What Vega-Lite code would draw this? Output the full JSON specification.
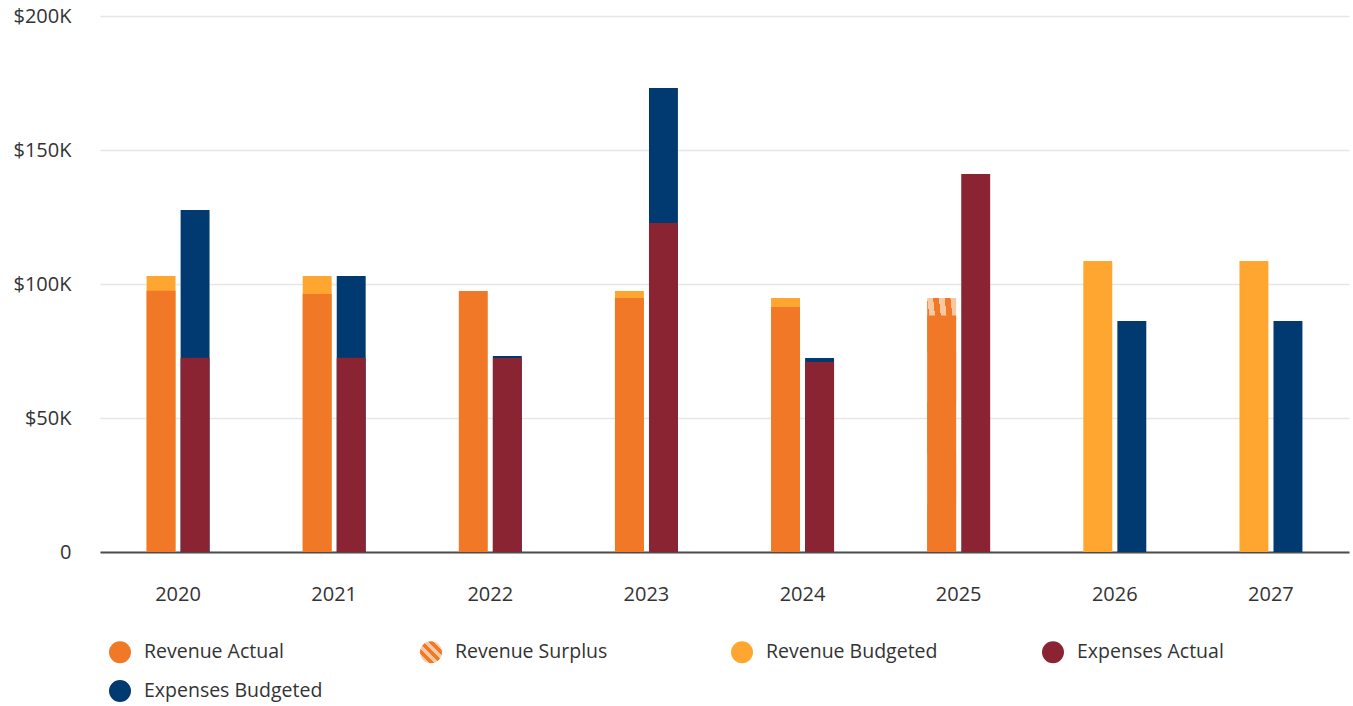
{
  "$schema": "https://vega.github.io/schema/vega-lite/v6.json",
  "autosize": {"type": "none"},
  "padding": {"left": 100, "top": 16, "right": 5, "bottom": 154},
  "width": 1249,
  "height": 536,
  "background": "white",
  "config": {
    "view": {"stroke": null},
    "font": "Open Sans",
    "axis": {"labelFont": "Open Sans", "labelFontSize": 20, "labelColor": "#333333", "titleFont": "Open Sans"},
    "legend": {"labelFont": "Open Sans", "labelFontSize": 19.5, "labelColor": "#333333"}
  },
  "data": {
    "values": [
      {"year": "2020", "group": "Revenue", "series": "Revenue Budgeted", "value": 103000},
      {"year": "2020", "group": "Revenue", "series": "Revenue Actual", "value": 97500},
      {"year": "2020", "group": "Expenses", "series": "Expenses Budgeted", "value": 127600},
      {"year": "2020", "group": "Expenses", "series": "Expenses Actual", "value": 72500},
      {"year": "2021", "group": "Revenue", "series": "Revenue Budgeted", "value": 103000},
      {"year": "2021", "group": "Revenue", "series": "Revenue Actual", "value": 96300},
      {"year": "2021", "group": "Expenses", "series": "Expenses Budgeted", "value": 103000},
      {"year": "2021", "group": "Expenses", "series": "Expenses Actual", "value": 72500},
      {"year": "2022", "group": "Revenue", "series": "Revenue Actual", "value": 97400},
      {"year": "2022", "group": "Expenses", "series": "Expenses Budgeted", "value": 73100},
      {"year": "2022", "group": "Expenses", "series": "Expenses Actual", "value": 72400},
      {"year": "2023", "group": "Revenue", "series": "Revenue Budgeted", "value": 97400},
      {"year": "2023", "group": "Revenue", "series": "Revenue Actual", "value": 94800},
      {"year": "2023", "group": "Expenses", "series": "Expenses Budgeted", "value": 173100},
      {"year": "2023", "group": "Expenses", "series": "Expenses Actual", "value": 122800},
      {"year": "2024", "group": "Revenue", "series": "Revenue Budgeted", "value": 94800},
      {"year": "2024", "group": "Revenue", "series": "Revenue Actual", "value": 91400},
      {"year": "2024", "group": "Expenses", "series": "Expenses Budgeted", "value": 72400},
      {"year": "2024", "group": "Expenses", "series": "Expenses Actual", "value": 70900},
      {"year": "2025", "group": "Revenue", "series": "Revenue Surplus", "value": 94800},
      {"year": "2025", "group": "Revenue", "series": "Revenue Actual", "value": 88200},
      {"year": "2025", "group": "Expenses", "series": "Expenses Actual", "value": 141000},
      {"year": "2026", "group": "Revenue", "series": "Revenue Budgeted", "value": 108600},
      {"year": "2026", "group": "Expenses", "series": "Expenses Budgeted", "value": 86200},
      {"year": "2027", "group": "Revenue", "series": "Revenue Budgeted", "value": 108600},
      {"year": "2027", "group": "Expenses", "series": "Expenses Budgeted", "value": 86200}
    ]
  },
  "encoding": {
    "x": {
      "field": "year", "type": "nominal", "title": null,
      "scale": {"paddingInner": 0.564, "paddingOuter": 0.282},
      "axis": {"labelAngle": 0, "ticks": false, "labelPadding": 32, "domainColor": "#4d4d4d", "domainWidth": 2, "grid": false}
    },
    "xOffset": {
      "field": "group", "type": "nominal",
      "scale": {"domain": ["Revenue", "Expenses"], "paddingInner": 0.15, "paddingOuter": 0.075}
    },
    "y": {
      "field": "value", "type": "quantitative", "title": null, "stack": null,
      "scale": {"domain": [0, 200000], "nice": false},
      "axis": {
        "values": [0, 50000, 100000, 150000, 200000],
        "labelExpr": "datum.value === 0 ? '0' : '$' + format(datum.value / 1000, 'd') + 'K'",
        "domain": false, "ticks": false, "labelPadding": 29,
        "gridColor": "#e6e6e6", "gridWidth": 1.5
      }
    }
  },
  "layer": [
    {
      "transform": [{"filter": "datum.series === 'Revenue Budgeted' || datum.series === 'Expenses Budgeted'"}],
      "mark": {"type": "bar"},
      "encoding": {
        "color": {
          "field": "series", "type": "nominal", "title": null,
          "scale": {
            "domain": ["Revenue Actual", "Revenue Surplus", "Revenue Budgeted", "Expenses Actual", "Expenses Budgeted"],
            "range": ["#f07826", "#f4a26a", "#ffa630", "#8a2433", "#003a70"]
          },
          "legend": {
            "orient": "none", "legendX": 9, "legendY": 625, "direction": "horizontal", "columns": 4,
            "gridAlign": "all", "columnPadding": 80, "rowPadding": -20,
            "symbolType": "circle", "symbolSize": 121, "symbolStrokeWidth": 11, "symbolOpacity": 1, "labelOffset": 13,
            "padding": 0, "labelLimit": 300,
            "encode": {
              "symbols": {
                "update": {
                  "stroke": [
                    {"test": "datum.value === 'Revenue Surplus'", "value": {"gradient": "linear", "x1": -0.5, "y1": 1.5, "x2": 1.5, "y2": -0.5,
                      "stops": [
                        {"offset": 0, "color": "#f07826"}, {"offset": 0.11, "color": "#f07826"},
                        {"offset": 0.11, "color": "#f8c8a2"}, {"offset": 0.22, "color": "#f8c8a2"},
                        {"offset": 0.22, "color": "#f07826"}, {"offset": 0.33, "color": "#f07826"},
                        {"offset": 0.33, "color": "#f8c8a2"}, {"offset": 0.44, "color": "#f8c8a2"},
                        {"offset": 0.44, "color": "#f07826"}, {"offset": 0.56, "color": "#f07826"},
                        {"offset": 0.56, "color": "#f8c8a2"}, {"offset": 0.67, "color": "#f8c8a2"},
                        {"offset": 0.67, "color": "#f07826"}, {"offset": 0.78, "color": "#f07826"},
                        {"offset": 0.78, "color": "#f8c8a2"}, {"offset": 0.89, "color": "#f8c8a2"},
                        {"offset": 0.89, "color": "#f07826"}, {"offset": 1, "color": "#f07826"}
                      ]}},
                    {"scale": "color", "field": "value"}
                  ],
                  "strokeWidth": {"value": 11},
                  "strokeOpacity": {"value": 1}
                }
              }
            }
          }
        }
      }
    },
    {
      "transform": [{"filter": "datum.series === 'Revenue Surplus'"}],
      "mark": {
        "type": "bar",
        "fill": {"gradient": "linear", "x1": 0, "y1": 1, "x2": 1, "y2": 0,
          "stops": [
            {"offset": 0, "color": "#f07826"}, {"offset": 0.1, "color": "#f07826"},
            {"offset": 0.1, "color": "#f8c8a2"}, {"offset": 0.2, "color": "#f8c8a2"},
            {"offset": 0.2, "color": "#f07826"}, {"offset": 0.3, "color": "#f07826"},
            {"offset": 0.3, "color": "#f8c8a2"}, {"offset": 0.4, "color": "#f8c8a2"},
            {"offset": 0.4, "color": "#f07826"}, {"offset": 0.5, "color": "#f07826"},
            {"offset": 0.5, "color": "#f8c8a2"}, {"offset": 0.6, "color": "#f8c8a2"},
            {"offset": 0.6, "color": "#f07826"}, {"offset": 0.7, "color": "#f07826"},
            {"offset": 0.7, "color": "#f8c8a2"}, {"offset": 0.8, "color": "#f8c8a2"},
            {"offset": 0.8, "color": "#f07826"}, {"offset": 0.9, "color": "#f07826"},
            {"offset": 0.9, "color": "#f8c8a2"}, {"offset": 1, "color": "#f8c8a2"}
          ]}
      },
      "encoding": {}
    },
    {
      "transform": [{"filter": "datum.series === 'Revenue Actual' || datum.series === 'Expenses Actual'"}],
      "mark": {"type": "bar"},
      "encoding": {
        "color": {"field": "series", "type": "nominal", "title": null}
      }
    }
  ]
}
